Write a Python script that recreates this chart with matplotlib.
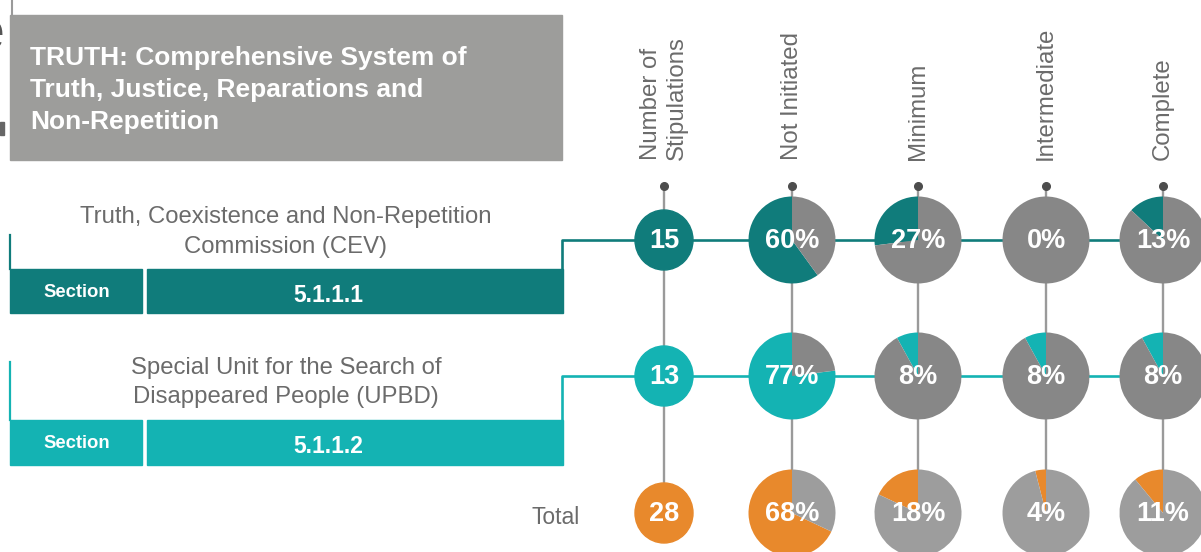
import matplotlib
matplotlib.use("Agg")
import matplotlib.pyplot as plt
from matplotlib.patches import Rectangle, Ellipse

plt.rcParams['font.family'] = ['Liberation Sans', 'DejaVu Sans']

# data
title_lines = ["TRUTH: Comprehensive System of",
               "Truth, Justice, Reparations and",
               "Non-Repetition"]
row_labels = [["Truth, Coexistence and Non-Repetition", "Commission (CEV)"],
              ["Special Unit for the Search of", "Disappeared People (UPBD)"]]
sections = ["5.1.1.1", "5.1.1.2"]
headers = ["Number of\nStipulations", "Not Initiated", "Minimum", "Intermediate", "Complete"]
stipulations = [15, 13, 28]
cev_pct = [60, 27, 0, 13]
upbd_pct = [77, 8, 8, 8]
total_pct = [68, 18, 4, 11]

# layout (pixels)
W, H = 1201, 552
col_x = [664, 792, 918, 1046, 1163]
row_y = [240, 376, 513]
box_top = [269, 420]
box_bot = [313, 465]
label_y = [[217, 247], [368, 397]]
dark_teal = '#107c7b'
light_teal = '#14b3b3'
orange = '#e8892c'
row_colors = [dark_teal, light_teal, orange]
pie_gray = ['#878787', '#878787', '#9d9d9d']
text_gray = '#6b6b6b'

def Y(y):
    return H - y

fig = plt.figure(figsize=(W / 100, H / 100), dpi=100)
ax = fig.add_axes([0, 0, 1, 1])

# title box
ax.add_patch(Rectangle((10, Y(160)), 552, 145, color='#9d9d9b', zorder=2))
for i, line in enumerate(title_lines):
    ax.text(30, Y(58 + 32 * i), line, color='white', fontsize=19,
            fontweight='bold', ha='left', va='center', zorder=3)
ax.plot([12, 12], [Y(0), Y(15)], color='#9a9a9a', lw=1.5)
ax.text(5, Y(36), 'e', fontsize=40, color='#555555', ha='right', va='center')
ax.add_patch(Rectangle((0, Y(135)), 4, 13, color='#666666'))

# column headers + dots + vertical guides
for x, h in zip(col_x, headers):
    ax.text(x, Y(160), h, rotation=90, ha='center', va='bottom',
            multialignment='left', fontsize=17.3, color=text_gray)
    ax.plot([x, x], [Y(186), Y(490)], color='#9a9a9a', lw=1.7, zorder=1)
    ax.plot(x, Y(186), 'o', color='#4d4d4d', ms=5.5, zorder=2)

# rows
for r in range(2):
    c = row_colors[r]
    for j, line in enumerate(row_labels[r]):
        ax.text(286, Y(label_y[r][j]), line, ha='center', va='center',
                fontsize=17.2, color=text_gray)
    ax.plot([10, 10], [Y(label_y[r][0] + (18 if r == 0 else -6)), Y(box_top[r])],
            color=c, lw=1.6)
    hgt = box_bot[r] - box_top[r]
    ax.add_patch(Rectangle((10, Y(box_bot[r])), 132, hgt, color=c))
    ax.add_patch(Rectangle((147, Y(box_bot[r])), 416, hgt, color=c))
    mid = (box_top[r] + box_bot[r]) / 2
    ax.text(77, Y(mid + 1.5), "Section", color='white', fontsize=13.3,
            fontweight='bold', ha='center', va='center')
    ax.text(328, Y(mid + 4), sections[r], color='white', fontsize=16.5,
            fontweight='bold', ha='center', va='center')
    ax.plot([562, 562, W], [Y(box_top[r]), Y(row_y[r]), Y(row_y[r])],
            color=c, lw=1.9, zorder=1.5)

ax.text(556, Y(518), "Total", ha='center', va='center', fontsize=16.5, color=text_gray)

# number circles
for r in range(3):
    ax.add_patch(Ellipse((col_x[0], Y(row_y[r])), 58, 60,
                         color=row_colors[r], zorder=3))
    ax.text(col_x[0], Y(row_y[r] + 1), str(stipulations[r]), color='white',
            fontsize=19.5, fontweight='bold', ha='center', va='center', zorder=4)

# pies
for r, pcts in enumerate([cev_pct, upbd_pct, total_pct]):
    for k, p in enumerate(pcts):
        cx, cy = col_x[k + 1], Y(row_y[r])
        wedges, _ = ax.pie([p, 100 - p], colors=[row_colors[r], pie_gray[r]],
                           startangle=90, counterclock=True, radius=43.5,
                           center=(cx, cy), frame=True,
                           wedgeprops=dict(linewidth=0))
        for w in wedges:
            w.set_zorder(3)
        ax.text(cx, cy - 1, f"{p}%", color='white', fontsize=19.5,
                fontweight='bold', ha='center', va='center', zorder=4)

ax.set_xlim(0, W)
ax.set_ylim(0, H)
ax.set_aspect('auto')
ax.axis('off')

fig.savefig('out.png', dpi=100)
